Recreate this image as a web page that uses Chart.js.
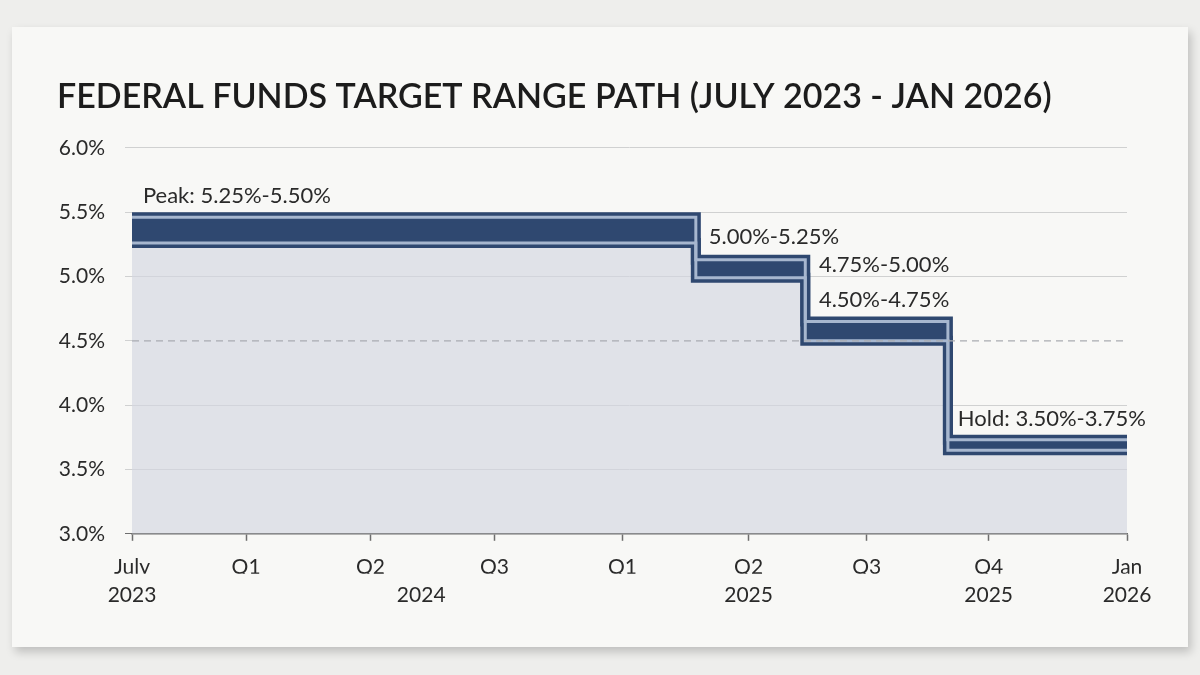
<!DOCTYPE html>
<html>
<head>
<meta charset="utf-8">
<title>Federal Funds Target Range Path</title>
<script src="https://cdn.jsdelivr.net/npm/chart.js@4.4.1/dist/chart.umd.min.js"></script>
<style>
  html, body { margin: 0; padding: 0; background: #eeeeec; }
  #card {
    position: absolute; left: 12px; top: 27px; width: 1176px; height: 620px;
    background: #f8f8f6; box-shadow: 3px 5px 9px rgba(0, 0, 0, 0.2);
  }
  canvas { display: block; }
</style>
</head>
<body>
<div id="card"><canvas id="rateChart" width="1176" height="620"></canvas></div>
<script>
// months after July 2023 where each range starts (last point = Jan 2026)
const stepMonths = [0, 17.0, 20.3, 24.6, 30];
const upperBound = [5.46, 5.13, 4.65, 3.73, 3.73];
const lowerBound = [5.26, 4.99, 4.50, 3.65, 3.65];
const refLevel = 4.5;

const quarterTicks = [0, 3.44, 7.19, 10.93, 14.79, 18.59, 22.15, 25.83, 30];
const quarterLabels = ['July', 'Q1', 'Q2', 'Q3', 'Q1', 'Q2', 'Q3', 'Q4', 'Jan'];
const yearTicks = [0, 8.72, 18.59, 25.83, 30];
const yearLabels = ['2023', '2024', '2025', '2025', '2026'];

const notes = [
  { text: 'Peak: 5.25%-5.50%', x: 0.33, y: 5.63 },
  { text: '5.00%-5.25%', x: 17.39, y: 5.31 },
  { text: '4.75%-5.00%', x: 20.71, y: 5.09 },
  { text: '4.50%-4.75%', x: 20.71, y: 4.82 },
  { text: 'Hold: 3.50%-3.75%', x: 24.9, y: 3.89 }
];

const NAVY = '#2f4870';
const INNER = '#a7b7cf';
const AXIS = '#6e6e6e';
const GRID = '#d0d1d1';
const TEXT = '#2a2a2a';
const FONT = 'Lato';

const upperPts = stepMonths.map((m, i) => ({ x: m, y: upperBound[i] }));
const lowerPts = stepMonths.map((m, i) => ({ x: m, y: lowerBound[i] }));

const notePlugin = {
  id: 'notes',
  afterDatasetsDraw(chart) {
    const { ctx, scales: { x, y } } = chart;
    ctx.save();
    ctx.font = '22px ' + FONT;
    ctx.fillStyle = TEXT;
    ctx.textAlign = 'left';
    ctx.textBaseline = 'middle';
    notes.forEach(n => ctx.fillText(n.text, x.getPixelForValue(n.x), y.getPixelForValue(n.y)));
    ctx.restore();
  }
};

const stepLine = (data, color, width) => ({
  data: data, stepped: true, borderColor: color, borderWidth: width,
  borderJoinStyle: 'miter', pointRadius: 0, fill: false
});

new Chart(document.getElementById('rateChart'), {
  type: 'line',
  data: {
    datasets: [
      {
        data: [{ x: 0, y: refLevel }, { x: 30, y: refLevel }],
        borderColor: '#a9acb1', borderWidth: 1.3, borderDash: [7, 5], pointRadius: 0, fill: false
      },
      stepLine(upperPts, INNER, 3),
      stepLine(lowerPts, INNER, 3),
      Object.assign(stepLine(upperPts, NAVY, 10), { fill: 4, backgroundColor: NAVY }),
      Object.assign(stepLine(lowerPts, NAVY, 10), { fill: 'start', backgroundColor: 'rgba(210, 214, 224, 0.65)' })
    ]
  },
  options: {
    responsive: false,
    animation: false,
    layout: { padding: { left: 45, right: 61, top: 20, bottom: 30 } },
    plugins: {
      legend: { display: false },
      tooltip: { enabled: false },
      title: {
        display: true,
        text: 'FEDERAL FUNDS TARGET RANGE PATH (JULY 2023 - JAN 2026)',
        align: 'start',
        color: '#1c1c1c',
        font: { family: FONT, size: 34, weight: 600 },
        padding: { top: 30, bottom: 30 }
      }
    },
    scales: {
      x: {
        type: 'linear', min: 0, max: 30, position: 'bottom',
        afterBuildTicks: s => { s.ticks = quarterTicks.map(v => ({ value: v })); },
        afterFit: s => { s.height = 40; },
        ticks: {
          autoSkip: false, maxRotation: 0, padding: 14, color: TEXT,
          font: { family: FONT, size: 21 },
          callback: (v, i) => quarterLabels[i]
        },
        grid: { drawOnChartArea: false, tickLength: 7, tickColor: AXIS, tickWidth: 1.5 },
        border: { display: true, color: AXIS, width: 1.5 }
      },
      x2: {
        type: 'linear', min: 0, max: 30, position: 'bottom',
        afterBuildTicks: s => { s.ticks = yearTicks.map(v => ({ value: v })); },
        ticks: {
          autoSkip: false, maxRotation: 0, padding: 9, color: TEXT,
          font: { family: FONT, size: 21 },
          callback: (v, i) => yearLabels[i]
        },
        grid: { display: false, drawTicks: false },
        border: { display: false }
      },
      y: {
        min: 3, max: 6,
        afterFit: s => { s.width = 75; },
        ticks: {
          stepSize: 0.5, padding: 20, color: TEXT,
          font: { family: FONT, size: 21 },
          callback: v => v.toFixed(1) + '%'
        },
        grid: {
          tickLength: 7, lineWidth: 1,
          color: c => c.tick.value === refLevel ? 'rgba(0,0,0,0)' : (c.tick.value === 3 ? AXIS : GRID),
          tickColor: c => c.tick.value === 3 ? AXIS : GRID
        },
        border: { display: false }
      }
    }
  },
  plugins: [notePlugin]
});
</script>
</body>
</html>
